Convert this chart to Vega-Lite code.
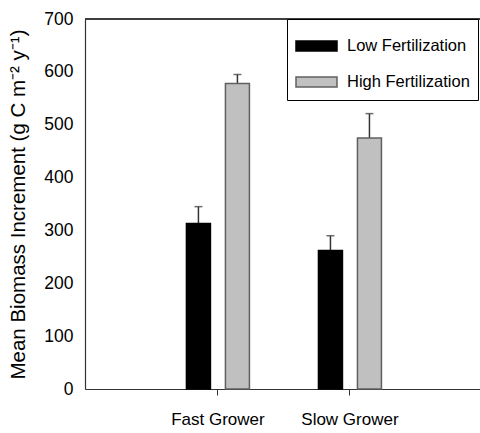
{
  "$schema": "https://vega.github.io/schema/vega-lite/v6.json",
  "autosize": "none",
  "padding": {"left": 85, "top": 19, "right": 0, "bottom": 44},
  "width": 395,
  "height": 370,
  "background": "white",
  "data": {
    "values": [
      {"group": "Fast Grower", "treatment": "Low Fertilization", "mean": 313, "upper": 345},
      {"group": "Fast Grower", "treatment": "High Fertilization", "mean": 578, "upper": 595},
      {"group": "Slow Grower", "treatment": "Low Fertilization", "mean": 262, "upper": 290},
      {"group": "Slow Grower", "treatment": "High Fertilization", "mean": 475, "upper": 521}
    ]
  },
  "layer": [
    {
      "mark": {"type": "rule", "color": "#333", "strokeWidth": 1.2},
      "encoding": {"y": {"datum": 700, "type": "quantitative"}}
    },
    {
      "encoding": {
        "x": {
          "field": "group",
          "type": "nominal",
          "sort": ["Fast Grower", "Slow Grower"],
          "scale": {"paddingInner": 0, "paddingOuter": 0.496, "align": 0.511},
          "axis": {
            "title": null,
            "labelAngle": 0,
            "labelFont": "Liberation Sans",
            "labelFontSize": 17,
            "labelColor": "black",
            "labelPadding": 16,
            "tickSize": 6,
            "tickColor": "#333",
            "domainColor": "#333",
            "domainWidth": 1.2
          }
        },
        "xOffset": {
          "field": "treatment",
          "type": "nominal",
          "sort": ["Low Fertilization", "High Fertilization"],
          "scale": {"paddingInner": 0.3846, "paddingOuter": 0.885}
        }
      },
      "layer": [
        {
          "mark": {"type": "rule", "color": "#333", "strokeWidth": 1.5},
          "encoding": {
            "y": {"field": "mean", "type": "quantitative"},
            "y2": {"field": "upper"}
          }
        },
        {
          "mark": {"type": "tick", "color": "#333", "size": 8, "thickness": 1.5, "orient": "horizontal"},
          "encoding": {
            "y": {"field": "upper", "type": "quantitative"}
          }
        },
        {
          "mark": {"type": "bar", "strokeWidth": 1.5},
          "encoding": {
            "y": {
              "field": "mean",
              "type": "quantitative",
              "scale": {"domain": [0, 700], "nice": false},
              "axis": {
                "title": "Mean Biomass Increment (g C m⁻² y⁻¹)",
                "titleFont": "Liberation Sans",
                "titleFontSize": 20.5,
                "titleFontWeight": "normal",
                "titleColor": "black",
                "titlePadding": 15,
                "values": [0, 100, 200, 300, 400, 500, 600, 700],
                "labelFont": "Liberation Sans",
                "labelFontSize": 17.5,
                "labelColor": "black",
                "labelPadding": 12,
                "ticks": false,
                "tickSize": 0,
                "grid": false,
                "domainColor": "#333",
                "domainWidth": 1.2
              }
            },
            "stroke": {
              "field": "treatment",
              "type": "nominal",
              "scale": {"domain": ["Low Fertilization", "High Fertilization"], "range": ["#000000", "#606060"]},
              "legend": null
            },
            "color": {
              "field": "treatment",
              "type": "nominal",
              "sort": ["Low Fertilization", "High Fertilization"],
              "scale": {"domain": ["Low Fertilization", "High Fertilization"], "range": ["#000000", "#c0c0c0"]},
              "legend": {
                "title": " ",
                "titleFontSize": 5,
                "titlePadding": 4,
                "orient": "none",
                "legendX": 202,
                "legendY": 0,
                "padding": 8,
                "strokeColor": "black",
                "fillColor": "white",
                "symbolType": "M-1,-0.244H1V0.244H-1Z",
                "symbolSize": 1681,
                "clipHeight": 20,
                "symbolStrokeColor": "#333",
                "symbolStrokeWidth": 1.5,
                "symbolOpacity": 1,
                "labelFont": "Liberation Sans",
                "labelFontSize": 16.5,
                "labelColor": "black",
                "labelOffset": 9,
                "labelLimit": 300,
                "rowPadding": 16
              }
            }
          }
        }
      ]
    }
  ],
  "config": {
    "view": {"stroke": null}
  }
}
